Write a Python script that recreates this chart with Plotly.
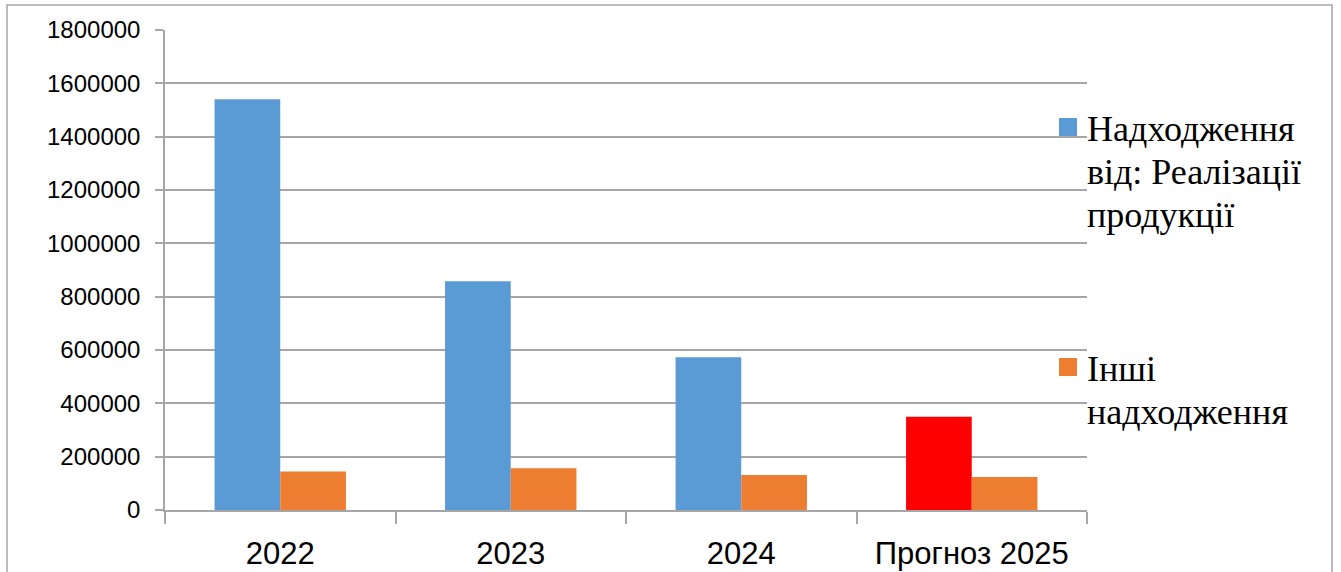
import plotly.graph_objects as go

categories = ["2022", "2023", "2024", "Прогноз 2025"]
sales_revenue = [1540000, 858000, 573000, 350000]
other_revenue = [144000, 157000, 131000, 124000]
series_names = ["Надходження від: Реалізації продукції", "Інші надходження"]
legend_lines = [["Надходження", "від: Реалізації", "продукції"], ["Інші", "надходження"]]
sales_colors = ["#5B9BD5", "#5B9BD5", "#5B9BD5", "#FF0000"]
series_colors = ["#5B9BD5", "#ED7D31"]
y_ticks = [0, 200000, 400000, 600000, 800000, 1000000, 1200000, 1400000, 1600000, 1800000]

fig = go.Figure()
fig.add_trace(go.Bar(
    x=categories, y=sales_revenue, name=series_names[0],
    marker=dict(color=sales_colors, line=dict(width=0)),
))
fig.add_trace(go.Bar(
    x=categories, y=other_revenue, name=series_names[1],
    marker=dict(color=series_colors[1], line=dict(width=0)),
))

W, H = 1341, 572
L, R, T, B = 165, 1341 - 1087, 30, 572 - 510
pw, ph = W - L - R, H - T - B

def px(x):
    return (x - L) / pw

def py(y):
    return (H - B - y) / ph

SERIF = "Liberation Serif"
SANS = "Liberation Sans"
LEG_SIZE = 36

# manual legend (serif text, squares aligned with first line)
shapes = [dict(
    type="rect", xref="paper", yref="paper",
    x0=px(7), x1=px(1332), y0=py(590), y1=py(5),
    line=dict(color="#A6A6A6", width=1.5), fillcolor="rgba(0,0,0,0)",
    layer="below",
)]
annotations = []
item_first_baseline = [140, 380]
line_step = 43
for i, lines in enumerate(legend_lines):
    b0 = item_first_baseline[i]
    shapes.append(dict(
        type="rect", xref="paper", yref="paper",
        x0=px(1059), x1=px(1077), y0=py(b0 - 4), y1=py(b0 - 22),
        line=dict(width=0), fillcolor=series_colors[i], layer="above",
    ))
    for j, t in enumerate(lines):
        base = b0 + j * line_step
        annotations.append(dict(
            xref="paper", yref="paper", x=px(1085), y=py(base - 11),
            xanchor="left", yanchor="middle", showarrow=False, text=t,
            font=dict(family=SERIF, size=LEG_SIZE, color="black"),
        ))

fig.update_layout(
    width=W, height=H,
    margin=dict(l=L, r=R, t=T, b=B, autoexpand=False),
    paper_bgcolor="white", plot_bgcolor="white",
    barmode="group", bargap=0.43, bargroupgap=0,
    font=dict(family=SANS, color="black"),
    showlegend=False,
    xaxis=dict(
        type="category", tickson="boundaries", ticks="outside", ticklen=12,
        tickcolor="#A6A6A6", tickwidth=1.5,
        showline=True, linecolor="#A6A6A6", linewidth=1.5,
        showgrid=False, tickfont=dict(size=31, family=SANS),
        ticklabelstandoff=15,
    ),
    yaxis=dict(
        range=[0, 1800000], tickvals=y_ticks, tickformat="d",
        ticks="outside", ticklen=8, tickcolor="#A6A6A6", tickwidth=1.5,
        showline=True, linecolor="#A6A6A6", linewidth=1.5,
        showgrid=True, gridcolor="#A6A6A6", gridwidth=1.5,
        zeroline=False,
        tickfont=dict(size=24, family=SANS),
        ticklabelstandoff=10,
    ),
    shapes=shapes,
    annotations=annotations,
)

fig.write_html("out.html")
